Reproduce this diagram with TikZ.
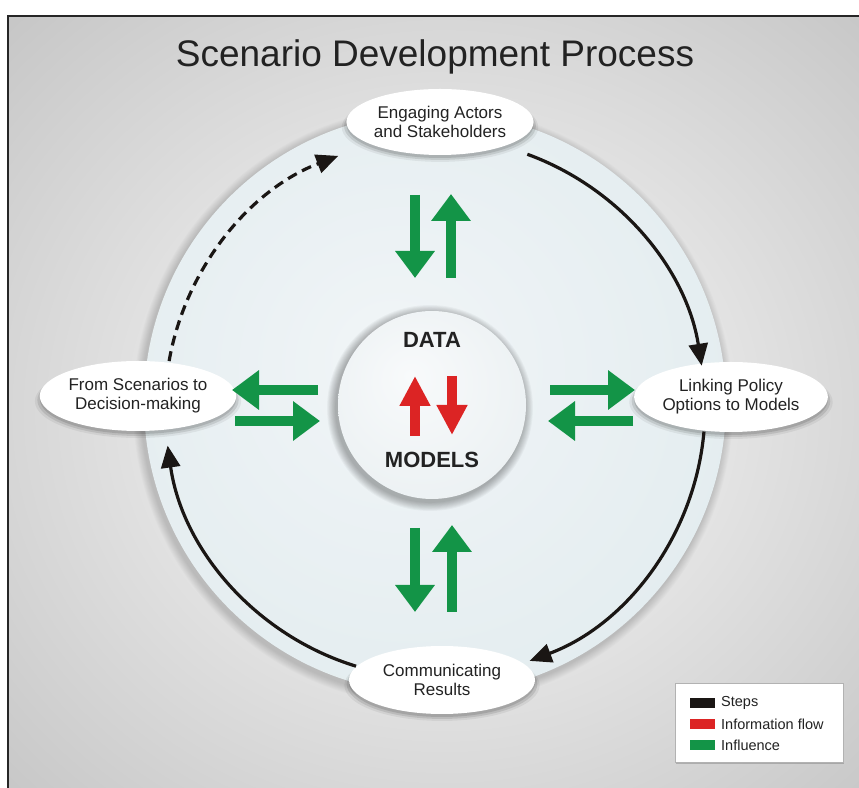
\documentclass[tikz,border=0pt]{standalone}
\usepackage{fontspec}
\setmainfont{Liberation Sans}
\usetikzlibrary{arrows.meta,shadows,calc,shapes.geometric}
\definecolor{bgA}{HTML}{EAEAEA}
\definecolor{bgB}{HTML}{B0B0B0}
\definecolor{cA}{HTML}{F1F5F7}
\definecolor{cB}{HTML}{E4EDF0}
\definecolor{cC}{HTML}{D6E4E9}
\definecolor{iA}{HTML}{F8FAFB}
\definecolor{iB}{HTML}{ECF1F3}
\definecolor{iC}{HTML}{CFDADF}
\definecolor{infl}{HTML}{139447}
\definecolor{info}{HTML}{DC2424}
\definecolor{stepc}{HTML}{1A1614}
\definecolor{txt}{HTML}{222222}
\pgfdeclareradialshading{bgshade}{\pgfpoint{0bp}{0bp}}{color(0bp)=(bgA); color(12bp)=(bgA); color(50bp)=(bgB)}
\pgfdeclareradialshading{bigshade}{\pgfpoint{-4bp}{4bp}}{color(0bp)=(cA); color(28bp)=(cB); color(50bp)=(cC)}
\pgfdeclareradialshading{innershade}{\pgfpoint{-6bp}{8bp}}{color(0bp)=(iA); color(30bp)=(iB); color(50bp)=(iC)}
\begin{document}
\begin{tikzpicture}[x=1pt,y=1pt,
  ell/.style={ellipse, fill=white, inner sep=0pt, align=center, text=txt,
    font=\fontsize{17}{19}\selectfont,
    general shadow={shadow scale=1.05, shadow yshift=-5pt, opacity=.06, fill=black},
    general shadow={shadow scale=1.025, shadow yshift=-4pt, opacity=.10, fill=black},
    general shadow={shadow yshift=-3pt, opacity=.12, fill=black}},
  garrow/.style={infl, line width=10pt, -{Triangle[length=27pt,width=38pt]}},
  rarrow/.style={info, line width=9.5pt, -{Triangle[length=30pt,width=29pt]}},
  steparrow/.style={stepc, line width=3.2pt, -{Triangle[length=22pt,width=19pt]}},
  legtext/.style={anchor=west, font=\fontsize{14.5}{16}\selectfont, text=txt, inner sep=0pt},
  swatch/.style={minimum width=25pt, minimum height=10pt, inner sep=0pt}
]
\useasboundingbox (0,0) rectangle (859,787);
\fill[white] (0,0) rectangle (859,787);
% background panel
\shade[shading=bgshade] (8,-20) rectangle (880,771);
\draw[line width=2.5pt, black!85] (8,-20) -- (8,771) -- (880,771);
% title
\node (title) at (435,730) {\fontsize{37}{40}\selectfont\color{txt} Scenario Development Process};
% big circle with soft shadow
\coordinate (bc) at (435,384);
\foreach \i in {1,...,10} {\fill[black,opacity=0.014] ($(bc)+(-2,-3)$) circle ({291+\i*0.9});}
\shade[shading=bigshade] (bc) circle (291);
% inner circle
\coordinate (ic) at (432,382);
\foreach \i in {1,...,10} {\fill[black,opacity=0.03] ($(ic)+(-2,-3)$) circle ({94+\i*0.9});}
\shade[shading=innershade] (ic) circle (94);
\node[font=\fontsize{22}{24}\selectfont\bfseries, text=txt] (data) at (432,447) {DATA};
\node[font=\fontsize{22}{24}\selectfont\bfseries, text=txt] (models) at (432,327) {MODELS};
% red arrows
\coordinate (ru1) at (415,351); \coordinate (ru2) at (415,411);
\coordinate (rd1) at (452,411); \coordinate (rd2) at (452,352);
\draw[rarrow] (ru1) -- (ru2);
\draw[rarrow] (rd1) -- (rd2);
% ellipses
\node[ell, minimum width=182pt, minimum height=66pt] (eng) at (440,665) {Engaging Actors\\and Stakeholders};
\node[ell, minimum width=189pt, minimum height=70pt] (link) at (731,390) {Linking Policy\\Options to Models};
\node[ell, minimum width=184pt, minimum height=70pt] (from) at (138,391) {From Scenarios to\\Decision-making};
\node[ell, minimum width=186pt, minimum height=68pt] (comm) at (442,107) {Communicating\\Results};
% green arrows
\coordinate (t1) at (415,592); \coordinate (t2) at (415,509);
\coordinate (t3) at (451,509); \coordinate (t4) at (451,593);
\coordinate (b1) at (415,259); \coordinate (b2) at (415,175);
\coordinate (b3) at (452,175); \coordinate (b4) at (452,262);
\coordinate (l1) at (318,397); \coordinate (l2) at (232,397);
\coordinate (l3) at (235,366); \coordinate (l4) at (320,366);
\coordinate (r1) at (550,397); \coordinate (r2) at (635,397);
\coordinate (r3) at (633,366); \coordinate (r4) at (548,366);
\draw[garrow] (t1) -- (t2);
\draw[garrow] (t3) -- (t4);
\draw[garrow] (b1) -- (b2);
\draw[garrow] (b3) -- (b4);
\draw[garrow] (l1) -- (l2);
\draw[garrow] (l3) -- (l4);
\draw[garrow] (r1) -- (r2);
\draw[garrow] (r3) -- (r4);
% step arcs
\coordinate (sc) at (435,379);
\coordinate (s1) at ($(sc)+(70:270)$);
\coordinate (s2) at ($(sc)+(-5:270)$);
\coordinate (s3) at ($(sc)+(253:270)$);
\coordinate (s4) at ($(sc)+(170:270)$);
\draw[steparrow] (s1) arc[start angle=70, end angle=9, radius=270];
\draw[steparrow] (s2) arc[start angle=-5, end angle=-69.5, radius=270];
\draw[steparrow] (s3) arc[start angle=253, end angle=188, radius=270];
\draw[steparrow, dash pattern=on 10pt off 6pt] (s4) arc[start angle=170, end angle=111, radius=270];
% legend
\node[draw=gray!60, line width=0.4pt, fill=white, minimum width=168pt, minimum height=79pt, inner sep=0pt,
  general shadow={shadow xshift=1pt, shadow yshift=-2pt, opacity=.18, fill=black}] (legend) at (759,64.5) {};
\node[swatch, fill=stepc] (sw1) at (702.5,84) {};
\node[swatch, fill=info] (sw2) at (702.5,63) {};
\node[swatch, fill=infl] (sw3) at (702.5,42) {};
\node[legtext] (lt1) at (721,84) {Steps};
\node[legtext] (lt2) at (721,63) {Information flow};
\node[legtext] (lt3) at (721,42) {Influence};
\end{tikzpicture}
\end{document}
